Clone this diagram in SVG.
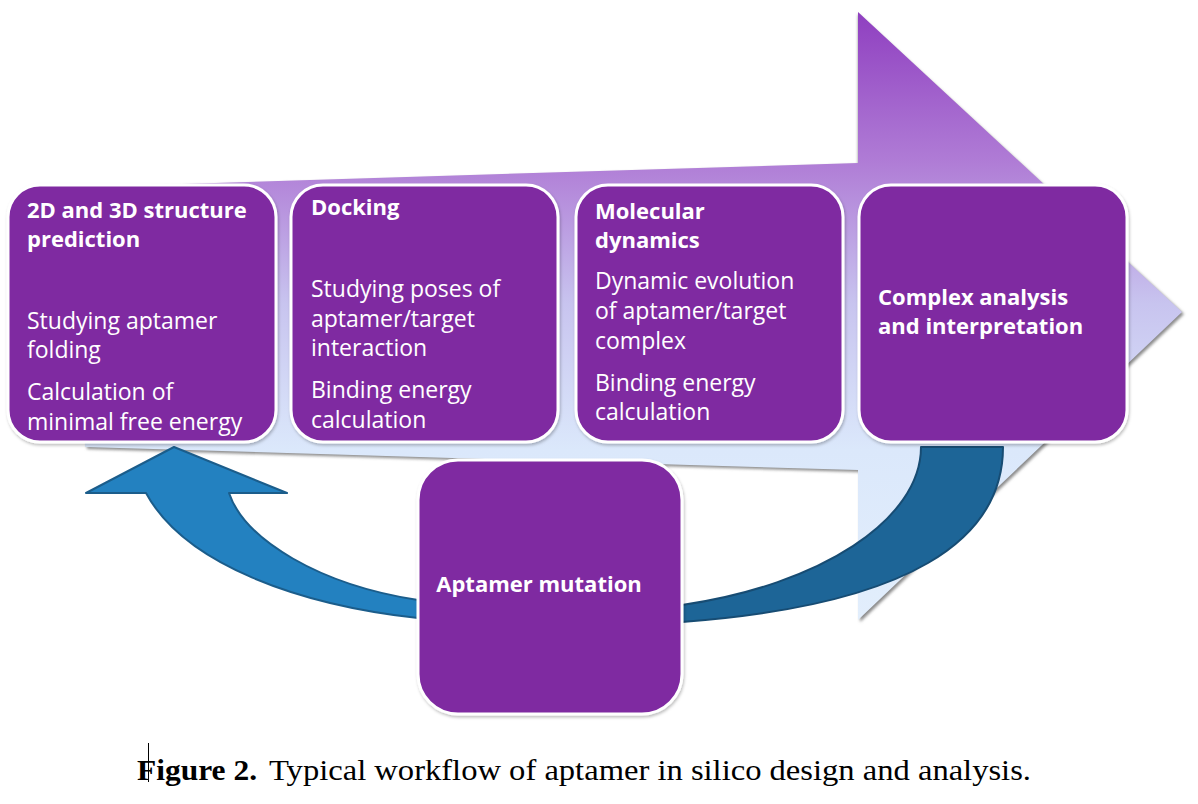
<svg xmlns="http://www.w3.org/2000/svg" width="1198" height="804" viewBox="0 0 1198 804">
<style>
.box{fill:#7f2ba1;stroke:#ffffff;stroke-width:3;filter:url(#bsh)}
.t{font-family:"Open Sans","DejaVu Sans",sans-serif;fill:#ffffff}
.h{font-size:22px;font-weight:bold}
.b{font-size:23px}
.cap{font-family:"Liberation Serif","Times New Roman",serif;font-size:30px;fill:#000}
</style>
<defs>
<linearGradient id="ag" x1="0" y1="12" x2="0" y2="620" gradientUnits="userSpaceOnUse">
<stop offset="0" stop-color="#8f3fc0"/>
<stop offset="0.25" stop-color="#b07dd6"/>
<stop offset="0.48" stop-color="#c8c4ef"/>
<stop offset="0.72" stop-color="#dbe8fb"/>
<stop offset="1" stop-color="#e2eefc"/>
</linearGradient>
<filter id="sh" x="-5%" y="-5%" width="110%" height="115%">
<feGaussianBlur stdDeviation="1.5"/>
</filter>
<filter id="bsh" x="-5%" y="-5%" width="115%" height="115%">
<feDropShadow dx="1" dy="2" stdDeviation="1.5" flood-color="#000" flood-opacity="0.25"/>
</filter>
</defs>
<rect width="1198" height="804" fill="#ffffff"/>
<g id="big-arrow">
<path d="M85,189 L858,165 L858,14 L1184,314 L860,622 L860,472 L87,449 Z" fill="#8a8a8a" filter="url(#sh)"/>
<path d="M85,187 L858,163 L858,12 L1182,312 L858,620 L858,470 L85,447 Z" fill="url(#ag)"/>
</g>
<g id="connectors">
<path id="loop-back" d="M174,447 L287,493 L229,493 C245,540 320,585 418,600 L418,618 C300,605 185,565 146,493 L86,493 Z" fill="#2381c0" stroke="#1b5d8b" stroke-width="2" stroke-linejoin="round"/>
<path id="loop-out" d="M921,447 L1003,447 C1003,540 910,605 682,622 L682,605 C820,585 921,520 921,447 Z" fill="#1d6597" stroke="#174c73" stroke-width="2" stroke-linejoin="round"/>
</g>
<g id="node-structure">
<rect class="box" x="8" y="185" width="268" height="257" rx="32"/>
<text class="t h" x="27" y="218">2D and 3D structure</text>
<text class="t h" x="27" y="247">prediction</text>
<text class="t b" x="27" y="329">Studying aptamer</text>
<text class="t b" x="27" y="358">folding</text>
<text class="t b" x="27" y="400">Calculation of</text>
<text class="t b" x="27" y="430">minimal free energy</text>
</g>
<g id="node-docking">
<rect class="box" x="291" y="185" width="267" height="257" rx="32"/>
<text class="t h" x="311" y="215">Docking</text>
<text class="t b" x="311" y="297">Studying poses of</text>
<text class="t b" x="311" y="327">aptamer/target</text>
<text class="t b" x="311" y="356">interaction</text>
<text class="t b" x="311" y="398">Binding energy</text>
<text class="t b" x="311" y="428">calculation</text>
</g>
<g id="node-md">
<rect class="box" x="576" y="185" width="267" height="257" rx="32"/>
<text class="t h" x="595" y="219">Molecular</text>
<text class="t h" x="595" y="248">dynamics</text>
<text class="t b" x="595" y="289">Dynamic evolution</text>
<text class="t b" x="595" y="319">of aptamer/target</text>
<text class="t b" x="595" y="349">complex</text>
<text class="t b" x="595" y="391">Binding energy</text>
<text class="t b" x="595" y="420">calculation</text>
</g>
<g id="node-analysis">
<rect class="box" x="859" y="185" width="268" height="257" rx="32"/>
<text class="t h" x="878" y="305">Complex analysis</text>
<text class="t h" x="878" y="334">and interpretation</text>
</g>
<g id="node-mutation">
<rect class="box" x="418" y="460" width="264" height="254" rx="40"/>
<text class="t h" x="539" y="592" text-anchor="middle">Aptamer mutation</text>
</g>
<g id="caption">
<line x1="148.5" y1="743" x2="148.5" y2="782" stroke="#000" stroke-width="1"/>
<text class="cap" x="137" y="780" font-weight="bold" textLength="120" lengthAdjust="spacingAndGlyphs">Figure 2.</text>
<text class="cap" x="269" y="780" textLength="762" lengthAdjust="spacingAndGlyphs">Typical workflow of aptamer in silico design and analysis.</text>
</g>
</svg>
